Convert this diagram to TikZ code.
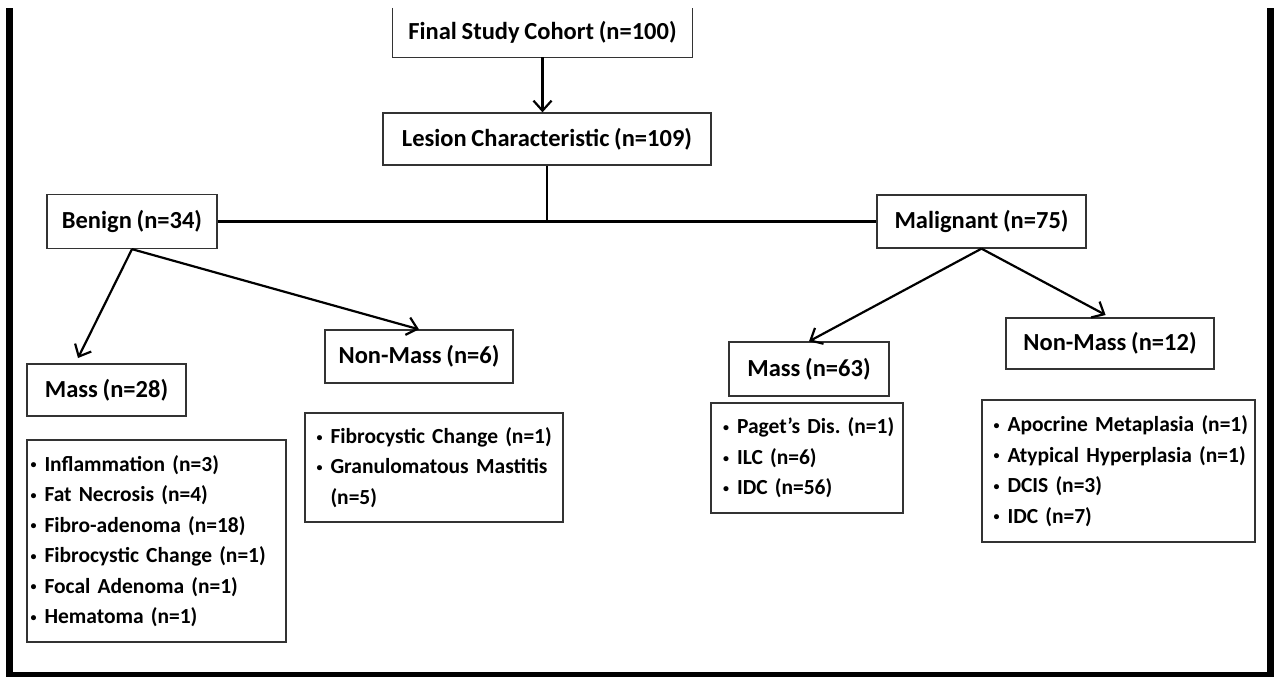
\documentclass[tikz,border=0pt]{standalone}
\usepackage{fontspec}
\setmainfont{Carlito}[WordSpace=0.85]
\usetikzlibrary{arrows.meta}
\newcommand\bul{\makebox[16pt][l]{\hspace{2pt}\raisebox{2.2pt}{\fontsize{12}{12}\selectfont •}}}
\newcommand\bulsp{\makebox[16pt][l]{}}
\newcommand\li[1]{\mbox{\bul #1}}
\frenchspacing
\begin{document}
\begin{tikzpicture}[x=1pt,y=-1pt,
  hdr/.style={font=\fontsize{24.5}{28}\selectfont\bfseries, inner sep=0pt},
  box/.style={draw=black!80, line width=1.3pt},
  lst/.style={box, font=\fontsize{21.5}{30.5}\selectfont\bfseries, align=left, inner ysep=0pt},
  conn/.style={draw=black, line width=2.2pt},
  arr/.style={conn, -{Straight Barb[length=10pt,width=18pt]}}]
\useasboundingbox (0,0) rectangle (1274,677);
\fill[white] (0,0) rectangle (1274,677);
% outer frame
\fill[black] (6,8) rectangle (13,677);
\fill[black] (6,672) rectangle (1274,677);
\fill[black] (1267,8) rectangle (1274,677);

% header nodes
\node[hdr, minimum width=299pt, minimum height=49pt] (final) at (542.5,32.5) {Final Study Cohort (n=100)};
\draw[box] (final.north west) -- (final.south west) -- (final.south east) -- (final.north east);
\node[hdr, box, minimum width=328pt, minimum height=52pt] (lesion) at (547,139) {Lesion Characteristic (n=109)};
\node[hdr, box, minimum width=170pt, minimum height=54pt] (benign) at (132,221.5) {Benign (n=34)};
\node[hdr, box, minimum width=209pt, minimum height=53pt] (malignant) at (981.5,221.5) {Malignant (n=75)};
\node[hdr, box, minimum width=159pt, minimum height=52pt] (m28) at (106.5,390) {Mass (n=28)};
\node[hdr, box, minimum width=188pt, minimum height=53pt] (nm6) at (419,356.5) {Non-Mass (n=6)};
\node[hdr, box, minimum width=160pt, minimum height=54pt] (m63) at (809,369) {Mass (n=63)};
\node[hdr, box, minimum width=208pt, minimum height=51pt] (nm12) at (1110,343.5) {Non-Mass (n=12)};

% lists
\node[lst, inner xsep=1.5pt, text width=256pt, minimum height=202pt] (l28) at (156.5,541)
  {\li{Inflammation (n=3)}\\ \li{Fat Necrosis (n=4)}\\ \li{Fibro-adenoma (n=18)}\\ \li{Fibrocystic Change (n=1)}\\ \li{Focal Adenoma (n=1)}\\ \li{Hematoma (n=1)}};
\node[lst, inner xsep=9.5pt, text width=239pt, minimum height=109pt] (l6) at (434,467.5)
  {\li{Fibrocystic Change (n=1)}\\ \li{Granulomatous Mastitis}\\ \mbox{\bulsp(n=5)}};
\node[lst, inner xsep=10pt, text width=172pt, minimum height=110pt] (l63) at (807,458)
  {\li{Paget’s Dis. (n=1)}\\ \li{ILC (n=6)}\\ \li{IDC (n=56)}};
\node[lst, inner xsep=9.5pt, text width=254pt, minimum height=142pt] (l12) at (1118.5,471)
  {\li{Apocrine Metaplasia (n=1)}\\ \li{Atypical Hyperplasia (n=1)}\\ \li{DCIS (n=3)}\\ \li{IDC (n=7)}};

% connectors
\draw[arr] (final.south) -- (final.south |- lesion.north);
\coordinate (jn) at (lesion.south |- benign.east);
\draw[conn] (lesion.south) -- (jn);
\draw[conn] (benign.east) -- (malignant.west);
\coordinate (t28) at (78,358);
\draw[arr] (benign.south) -- (t28);
\draw[arr] (benign.south) -- (nm6.north);
\draw[arr] (malignant.south) -- (m63.north);
\draw[arr, shorten >=5pt] (malignant.south) -- (nm12.north);
\end{tikzpicture}
\end{document}
